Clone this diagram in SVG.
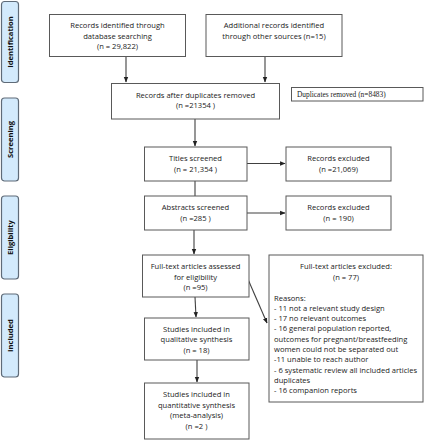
<svg xmlns="http://www.w3.org/2000/svg" width="424" height="440" viewBox="0 0 424 440">
<style>
.box{fill:#fff;stroke:#595959;stroke-width:1}
.side{fill:#d3eafc;stroke:#5f6b78;stroke-width:1.2}
.t{font-family:"Open Sans","Liberation Sans",sans-serif;font-size:7.6px;fill:#222;text-anchor:middle}
.tl{font-family:"Open Sans","Liberation Sans",sans-serif;font-size:7.6px;fill:#222}
.st{font-family:"Open Sans","Liberation Sans",sans-serif;font-size:7.6px;font-weight:bold;fill:#111;text-anchor:middle}
.serif{font-family:"Liberation Serif",serif;font-size:7.4px;fill:#222}
.c{stroke:#404040;stroke-width:1.1;fill:none}
</style>
<defs>
<marker id="ah" viewBox="0 0 10 10" refX="9" refY="5" markerWidth="5" markerHeight="5" orient="auto">
<path d="M0,1 L10,5 L0,9 Z" fill="#222"/>
</marker>
</defs>
<rect width="424" height="440" fill="#fff"/>
<g id="sidebars">
<g id="side-identification"><rect class="side" x="1.5" y="1.5" width="17" height="81" rx="3"/><text class="st" transform="translate(12.5,42) rotate(-90)">Identification</text></g>
<g id="side-screening"><rect class="side" x="1.5" y="98" width="17" height="83" rx="3"/><text class="st" transform="translate(12.5,139.5) rotate(-90)">Screening</text></g>
<g id="side-eligibility"><rect class="side" x="1.5" y="196" width="17" height="83" rx="3"/><text class="st" transform="translate(12.5,237.5) rotate(-90)">Eligibility</text></g>
<g id="side-included"><rect class="side" x="1.5" y="294" width="17" height="83" rx="3"/><text class="st" transform="translate(12.5,335.5) rotate(-90)">Included</text></g>
</g>
<g id="connectors">
<line class="c" x1="126" y1="56" x2="126" y2="82" marker-end="url(#ah)"/>
<line class="c" x1="265" y1="56" x2="265" y2="82" marker-end="url(#ah)"/>
<line class="c" x1="195" y1="119" x2="195" y2="146" marker-end="url(#ah)"/>
<line class="c" x1="247" y1="163.5" x2="285" y2="163.5" marker-end="url(#ah)"/>
<line class="c" x1="195" y1="181" x2="195" y2="196"/>
<line class="c" x1="247" y1="213" x2="285" y2="213" marker-end="url(#ah)"/>
<line class="c" x1="194" y1="230" x2="194" y2="254" marker-end="url(#ah)"/>
<line class="c" x1="247" y1="277" x2="267" y2="323" marker-end="url(#ah)"/>
<line class="c" x1="195" y1="297" x2="196" y2="317" marker-end="url(#ah)"/>
<line class="c" x1="197" y1="360" x2="197" y2="382" marker-end="url(#ah)"/>
</g>
<g id="n-db"><rect class="box" x="49.5" y="14.5" width="136" height="42"/>
<text class="t" x="117.5" y="28">Records identified through</text><text class="t" x="117.5" y="38.5">database searching</text><text class="t" x="117.5" y="49">(n = 29,822)</text></g>
<g id="n-other"><rect class="box" x="206" y="14.5" width="136" height="42"/>
<text class="t" x="274" y="28">Additional records identified</text><text class="t" x="274" y="38.5">through other sources (n=15)</text></g>
<g id="n-dup"><rect class="box" x="111.5" y="83.5" width="168" height="35.5"/>
<text class="t" x="195.5" y="97.5">Records after duplicates removed</text><text class="t" x="195.5" y="108">(n =21354 )</text></g>
<g id="n-dupremoved"><rect class="box" x="291.5" y="87.5" width="131.5" height="13.5"/>
<text class="serif" x="297" y="96.8">Duplicates removed (n=8483)</text></g>
<g id="n-titles"><rect class="box" x="144.5" y="147" width="102.5" height="34"/>
<text class="t" x="195.5" y="161">Titles screened</text><text class="t" x="195.5" y="171.5">(n = 21,354  )</text></g>
<g id="n-excl1"><rect class="box" x="286" y="147" width="105" height="34"/>
<text class="t" x="338.5" y="161">Records excluded</text><text class="t" x="338.5" y="171.5">(n =21,069)</text></g>
<g id="n-abstracts"><rect class="box" x="144.5" y="196" width="102.5" height="34"/>
<text class="t" x="195.5" y="210">Abstracts screened</text><text class="t" x="195.5" y="220.5">(n =285 )</text></g>
<g id="n-excl2"><rect class="box" x="286" y="196" width="105" height="34"/>
<text class="t" x="338.5" y="210">Records excluded</text><text class="t" x="338.5" y="220.5">(n = 190)</text></g>
<g id="n-fulltext"><rect class="box" x="142.5" y="255" width="106.5" height="42"/>
<text class="t" x="195.5" y="269">Full-text articles assessed</text><text class="t" x="195.5" y="279.5">for eligibility</text><text class="t" x="195.5" y="290">(n =95)</text></g>
<g id="n-excl3"><rect class="box" x="269" y="255" width="154" height="147"/>
<text class="t" x="346" y="269">Full-text articles excluded:</text><text class="t" x="346" y="279.5">(n = 77)</text>
<text class="tl" x="274" y="300.5">Reasons:</text>
<text class="tl" x="274" y="310.8">- 11 not a relevant study design</text>
<text class="tl" x="274" y="321.1">- 17 no relevant outcomes</text>
<text class="tl" x="274" y="331.4">- 16 general population reported,</text>
<text class="tl" x="274" y="341.7">outcomes for pregnant/breastfeeding</text>
<text class="tl" x="274" y="352">women could not be separated out</text>
<text class="tl" x="274" y="362.3">-11 unable to reach author</text>
<text class="tl" x="274" y="372.6">- 6 systematic review all included articles</text>
<text class="tl" x="274" y="382.9">duplicates</text>
<text class="tl" x="274" y="393.2">- 16 companion reports</text></g>
<g id="n-qual"><rect class="box" x="144.5" y="318" width="104.5" height="42"/>
<text class="t" x="196.5" y="331.5">Studies included in</text><text class="t" x="196.5" y="342">qualitative synthesis</text><text class="t" x="196.5" y="352.5">(n = 18)</text></g>
<g id="n-quant"><rect class="box" x="144.5" y="383" width="104.5" height="56"/>
<text class="t" x="196.5" y="397">Studies included in</text><text class="t" x="196.5" y="407.5">quantitative synthesis</text><text class="t" x="196.5" y="418">(meta-analysis)</text><text class="t" x="196.5" y="428.5">(n =2 )</text></g>
</svg>
